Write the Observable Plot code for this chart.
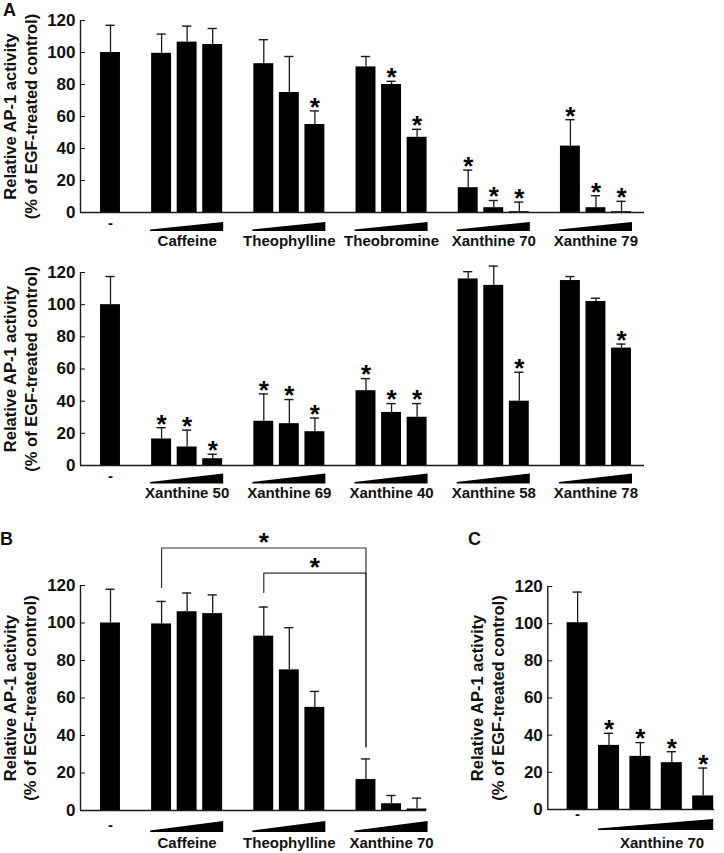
<!DOCTYPE html>
<html><head><meta charset="utf-8">
<script src="https://cdn.jsdelivr.net/npm/d3@7"></script>
<script src="https://cdn.jsdelivr.net/npm/@observablehq/plot@0.6"></script>
<style>
body{margin:0;background:#fff;}
#fig{position:relative;width:724px;height:853px;overflow:hidden;font-family:"Liberation Sans",Arial,Helvetica,sans-serif;font-weight:bold;color:#111;}
.letter{position:absolute;font-size:18px;line-height:1;font-weight:bold;}
svg{overflow:visible;}
</style></head><body><div id="fig"></div>
<script>
// ---------------- data ----------------
const yTicks = [0, 20, 40, 60, 80, 100, 120];
const yTitleLines = ["Relative AP-1 activity", "(% of EGF-treated control)"];
const controlLabel = "-";
const panelLetters = ["A", "B", "C"];

// Panel A, upper row
const aTopGroups = ["Caffeine", "Theophylline", "Theobromine", "Xanthine 70", "Xanthine 79"];
const aTopControl = 100, aTopControlSD = 17;
const aTopMeans = [[99.5, 106.5, 105], [93, 75, 55], [91, 80, 47], [15.5, 3, 0.5], [41.5, 3, 0.5]];
const aTopSD    = [[12, 10, 10], [15, 22.5, 8.5], [6.5, 2, 5], [11, 4.5, 6], [16.5, 7.5, 6.5]];
const aTopStars = [[0, 0, 0], [0, 0, 1], [0, 1, 1], [1, 1, 1], [1, 1, 1]];

// Panel A, lower row
const aBotGroups = ["Xanthine 50", "Xanthine 69", "Xanthine 40", "Xanthine 58", "Xanthine 78"];
const aBotControl = 100, aBotControlSD = 17.5;
const aBotMeans = [[16.5, 11.5, 4.2], [27.5, 26, 21], [46.5, 33, 30], [116, 112, 40], [115, 102, 73]];
const aBotSD    = [[7, 10.5, 2.8], [17, 15, 8.5], [7.5, 5.5, 8.5], [4.5, 12, 18], [2.5, 2, 2.5]];
const aBotStars = [[1, 1, 1], [1, 1, 1], [1, 1, 1], [0, 0, 1], [0, 0, 1]];

// Panel B
const bGroups = ["Caffeine", "Theophylline", "Xanthine 70"];
const bControl = 100, bControlSD = 18;
const bMeans = [[99.5, 106, 105], [93, 75, 55], [16.5, 3.6, 0.8]];
const bSD    = [[12, 10, 10], [15.5, 22.5, 8.5], [11, 4.4, 5.8]];
const bStars = [[0, 0, 0], [0, 0, 0], [0, 0, 0]];
const bracketFrom = [2, 6];          // slot of left bar
const bracketTo = [10, 10];          // slot of right bar
const bracketLevel = [140, 126.6];
const bracketLeftEnd = [119, 116.3];
const bracketRightEnd = [34, 34];

// Panel C
const cGroups = ["Xanthine 70"];
const cControl = 100.5, cControlSD = 16.5;
const cMeans = [[34.5, 28.6, 25.2, 7.3]];
const cSD    = [[6.5, 7.4, 5.9, 15]];
const cStars = [[1, 1, 1, 1]];

// ---------------- helpers ----------------
const FONT = '"Liberation Sans", Arial, Helvetica, sans-serif';
const INK = "#1a1a1a";

function buildRows(control, controlSD, means, sds, stars, gapped) {
  const rows = [{slot: 0, mean: control, err: control + controlSD, star: false, control: true}];
  const groupsInfo = [];
  means.forEach((ms, g) => {
    const slots = [];
    ms.forEach((m, j) => {
      const slot = gapped ? 2 + 4 * g + j : 1 + j;
      slots.push(slot);
      rows.push({slot, mean: m, err: m + sds[g][j], star: !!stars[g][j], control: false});
    });
    groupsInfo.push({first: slots[0], last: slots[slots.length - 1]});
  });
  return {rows, groupsInfo};
}

function makePanel(cfg) {
  const L = cfg.layout;
  const {rows, groupsInfo} = buildRows(cfg.control, cfg.controlSD, cfg.means, cfg.sds, cfg.stars, cfg.gapped);
  const labels = groupsInfo.map((g, i) => ({name: cfg.groups[i], center: (g.first + g.last) / 2, first: g.first, last: g.last}));
  const wedges = (index, scales) => {
    const g = d3.create("svg:g");
    const y0 = scales.y(0);
    for (const w of labels) {
      const xa = scales.x(w.first - L.hw - L.wedgePad);
      const xb = scales.x(w.last + L.hw + L.wedgePad);
      g.append("path")
        .attr("d", `M${xa},${y0 + L.wBot}L${xb},${y0 + L.wBot}L${xb},${y0 + L.wTopR}L${xa},${y0 + L.wTopL}Z`)
        .attr("fill", "#000");
    }
    return g.node();
  };
  const marks = [
    Plot.rect(rows, {x1: d => d.slot - L.hw, x2: d => d.slot + L.hw, y1: 0, y2: "mean", fill: "#000"}),
    Plot.ruleX(rows, {x: "slot", y1: "mean", y2: "err", stroke: INK, strokeWidth: 1.3}),
    Plot.ruleY(rows, {y: "err", x1: d => d.slot - L.cap, x2: d => d.slot + L.cap, stroke: INK, strokeWidth: 1.4}),
    Plot.text(rows.filter(d => d.star), {x: "slot", y: "err", text: () => "*", fontSize: L.starSize, dy: L.starDy, fill: "#000"}),
    Plot.ruleY([0], {stroke: INK, strokeWidth: 1.4}),
    Plot.ruleX([L.xDomain[0]], {y1: 0, y2: 120, stroke: INK, strokeWidth: 1.4}),
    Plot.text(rows.filter(d => d.control), {x: "slot", text: () => controlLabel, frameAnchor: "bottom", dy: L.dashDy, fontSize: 15}),
    Plot.text(labels, {x: "center", text: "name", frameAnchor: "bottom", dy: L.labelDy, fontSize: 15, dx: L.labelDx || 0}),
    wedges,
    Plot.text([yTitleLines.join("\n")], {text: d => d, frameAnchor: "left", textAnchor: "middle", lineAnchor: "middle", rotate: -90, dx: L.titleDx, lineHeight: 1.25, fontSize: 16.5}),
    ...(cfg.extra || [])
  ];
  const svg = Plot.plot({
    width: L.width, height: L.height,
    marginLeft: L.marginLeft, marginRight: L.marginRight, marginTop: L.marginTop, marginBottom: L.marginBottom,
    x: {domain: L.xDomain, axis: null},
    y: {domain: [0, 120], ticks: yTicks, tickSize: -5, tickPadding: 10, tickFormat: d => String(d), label: null},
    style: {fontFamily: FONT, fontWeight: "bold", fontSize: "17px", color: "#111", background: "transparent", overflow: "visible"},
    marks
  });
  svg.style.position = "absolute";
  svg.style.left = L.left + "px";
  svg.style.top = L.top + "px";
  return svg;
}

// B brackets
const bracketPts = [];
bracketFrom.forEach((f, i) => {
  bracketPts.push({id: i, x: f, y: bracketLeftEnd[i]});
  bracketPts.push({id: i, x: f, y: bracketLevel[i]});
  bracketPts.push({id: i, x: bracketTo[i], y: bracketLevel[i]});
  bracketPts.push({id: i, x: bracketTo[i], y: bracketRightEnd[i]});
});
const bracketStars = bracketFrom.map((f, i) => ({x: (f + bracketTo[i]) / 2, y: bracketLevel[i]}));

const commonA = {hw: 0.39, cap: 0.18, wedgePad: 0.04, starSize: 26, starDy: -3.5, xDomain: [-1.174, 20.9],
  width: 724, marginLeft: 80, marginRight: 80, titleDx: -60.5};

const fig = document.getElementById("fig");
fig.appendChild(makePanel({
  control: aTopControl, controlSD: aTopControlSD, means: aTopMeans, sds: aTopSD, stars: aTopStars, groups: aTopGroups, gapped: true,
  layout: {...commonA, left: 0, top: 0, height: 255, marginTop: 20, marginBottom: 43,
    wBot: 19, wTopL: 17.5, wTopR: 10, dashDy: 15, labelDy: 33}
}));
fig.appendChild(makePanel({
  control: aBotControl, controlSD: aBotControlSD, means: aBotMeans, sds: aBotSD, stars: aBotStars, groups: aBotGroups, gapped: true,
  layout: {...commonA, left: 0, top: 252, height: 255, marginTop: 20, marginBottom: 42,
    wBot: 18.5, wTopL: 17, wTopR: 8.5, dashDy: 15, labelDy: 32}
}));
fig.appendChild(makePanel({
  control: bControl, controlSD: bControlSD, means: bMeans, sds: bSD, stars: bStars, groups: bGroups, gapped: true,
  extra: [
    Plot.line(bracketPts, {x: "x", y: "y", z: "id", stroke: "#333", strokeWidth: 1.2}),
    Plot.text(bracketStars, {x: "x", y: "y", text: () => "*", fontSize: 26, dy: -5.5, fill: "#000"})
  ],
  layout: {hw: 0.39, cap: 0.18, wedgePad: 0.04, starSize: 26, starDy: -3.5, xDomain: [-1.174, 12.37],
    left: 0, top: 520, width: 490, height: 333, marginLeft: 80, marginRight: 64, marginTop: 65, marginBottom: 43,
    titleDx: -61, wBot: 22, wTopL: 20.5, wTopR: 11, dashDy: 19, labelDy: 37}
}));
fig.appendChild(makePanel({
  control: cControl, controlSD: cControlSD, means: cMeans, sds: cSD, stars: cStars, groups: cGroups, gapped: false,
  layout: {hw: 0.335, cap: 0.145, wedgePad: 0.0, starSize: 26, starDy: -3.5, xDomain: [-0.95, 4.36],
    left: 460, top: 520, width: 264, height: 333, marginLeft: 87.3, marginRight: 10, marginTop: 66, marginBottom: 44,
    titleDx: -61, wBot: 21, wTopL: 19.5, wTopR: 10, dashDy: 9, labelDy: 38, labelDx: 6}
}));

// panel letters
const letterPos = [[3, 1], [0, 530], [468, 530]];
panelLetters.forEach((t, i) => {
  const d = document.createElement("div");
  d.className = "letter";
  d.textContent = t;
  d.style.left = letterPos[i][0] + "px";
  d.style.top = letterPos[i][1] + "px";
  fig.appendChild(d);
});
</script></body></html>
